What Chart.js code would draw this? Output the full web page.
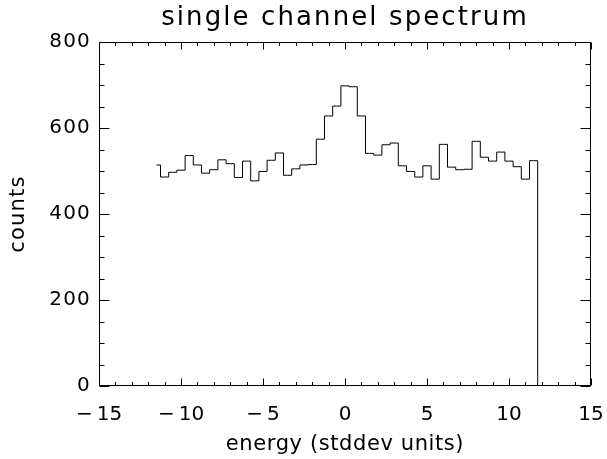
<!DOCTYPE html>
<html>
<head>
<meta charset="utf-8">
<script src="https://cdn.jsdelivr.net/npm/chart.js@4"></script>
<style>
  html, body { margin: 0; background: #fff; }
  #wrap { width: 607px; height: 459px; }
</style>
</head>
<body>
<div id="wrap"><canvas id="spectrum"></canvas></div>
<script>
// bin centres (stddev units) and counts, histogram style
const ENERGY = [
  -11.5, -11.0, -10.5, -10.0, -9.5, -9.0, -8.5, -8.0, -7.5, -7.0, -6.5, -6.0,
  -5.5, -5.0, -4.5, -4.0, -3.5, -3.0, -2.5, -2.0, -1.5, -1.0, -0.5, 0.0,
  0.5, 1.0, 1.5, 2.0, 2.5, 3.0, 3.5, 4.0, 4.5, 5.0, 5.5, 6.0,
  6.5, 7.0, 7.5, 8.0, 8.5, 9.0, 9.5, 10.0, 10.5, 11.0, 11.5, 12.0
];
const COUNTS = [
  514, 486, 497, 502, 536, 514, 495, 503, 526, 517, 485, 523,
  477, 499, 525, 542, 490, 505, 514, 515, 574, 628, 651, 698,
  696, 628, 541, 537, 561, 565, 512, 499, 486, 512, 481, 562,
  509, 503, 504, 569, 532, 523, 544, 523, 510, 481, 524, 0
];
const X_TICKS = [-15, -10, -5, 0, 5, 10, 15];
const Y_TICKS = [0, 200, 400, 600, 800];

const FONT = "'DejaVu Sans', sans-serif";
Chart.defaults.font.family = FONT;
Chart.defaults.color = '#000';

// wide, stroke-font look for the texts
function spaced(obj, fn, px) {
  if (!obj || obj[fn]._spaced) return;
  const orig = obj[fn];
  obj[fn] = function (...args) {
    const ctx = this.ctx;
    ctx.save();
    ctx.letterSpacing = px + 'px';
    orig.apply(this, args);
    ctx.restore();
  };
  obj[fn]._spaced = true;
}

// ── box frame + inward ticks (IDL style) ─────
const framePlugin = {
  id: 'frame',
  beforeDraw(chart) {
    spaced(chart.titleBlock, 'draw', 2.1);
    spaced(chart.scales.x, 'drawTitle', 0.6);
    spaced(chart.scales.y, 'drawTitle', 1.2);
    spaced(chart.scales.y, 'drawLabels', 1.2);
  },
  afterDraw(chart) {
    const { ctx, chartArea: a, scales: { x, y } } = chart;
    const L = a.left + 0.5, R = a.right - 0.5, T = a.top + 0.5, B = a.bottom - 0.5;
    ctx.save();
    ctx.strokeStyle = '#000';
    ctx.lineWidth = 1;
    ctx.beginPath();
    ctx.rect(L, T, R - L, B - T);
    for (let v = x.min; v <= x.max; v += 1) {
      const px = Math.round(x.getPixelForValue(v)) + 0.5;
      const len = v % 5 === 0 ? 7 : 3.5;
      ctx.moveTo(px, B); ctx.lineTo(px, B - len);
      ctx.moveTo(px, T); ctx.lineTo(px, T + len);
    }
    for (let v = y.min; v <= y.max; v += 50) {
      const py = Math.round(y.getPixelForValue(v)) + 0.5;
      const len = v % 200 === 0 ? 10 : 5;
      ctx.moveTo(L, py); ctx.lineTo(L + len, py);
      ctx.moveTo(R, py); ctx.lineTo(R - len, py);
    }
    ctx.stroke();
    ctx.restore();
  }
};

new Chart(document.getElementById('spectrum').getContext('2d'), {
  type: 'line',
  data: {
    datasets: [{
      data: ENERGY.map((e, i) => ({ x: e, y: COUNTS[i] })),
      stepped: 'middle',
      borderColor: '#000',
      borderWidth: 1,
      pointRadius: 0,
      fill: false,
    }],
  },
  options: {
    responsive: true,
    maintainAspectRatio: false,
    animation: false,
    layout: { padding: { left: 0, right: 16, top: 0, bottom: 0 } },
    plugins: {
      legend: { display: false },
      tooltip: { enabled: false },
      title: {
        display: true,
        text: 'single channel spectrum',
        fullSize: false,
        font: { size: 26, weight: 'normal' },
        padding: { top: 3, bottom: 7.8 },
      },
    },
    scales: {
      x: {
        type: 'linear',
        min: -15, max: 15,
        afterBuildTicks: s => { s.ticks = X_TICKS.map(v => ({ value: v })); },
        afterFit: s => { s.height = 73; s.paddingLeft = 0; s.paddingRight = 0; },
        grid: { display: false, drawTicks: false },
        border: { display: false },
        ticks: {
          padding: 17,
          font: { size: 20 },
          maxRotation: 0,
          callback: v => v < 0 ? '\u2212\u2009' + (-v) : String(v),
        },
        title: {
          display: true,
          text: 'energy (stddev units)',
          font: { size: 21 },
          padding: { top: 0, bottom: 2 },
        },
      },
      y: {
        min: 0, max: 800,
        afterBuildTicks: s => { s.ticks = Y_TICKS.map(v => ({ value: v })); },
        afterFit: s => { s.width = 99; },
        grid: { display: false, drawTicks: false },
        border: { display: false },
        ticks: { padding: 8, font: { size: 20 } },
        title: {
          display: true,
          text: 'counts',
          font: { size: 21 },
          padding: { top: 6, bottom: 0 },
        },
      },
    },
  },
  plugins: [framePlugin],
});
</script>
</body>
</html>
